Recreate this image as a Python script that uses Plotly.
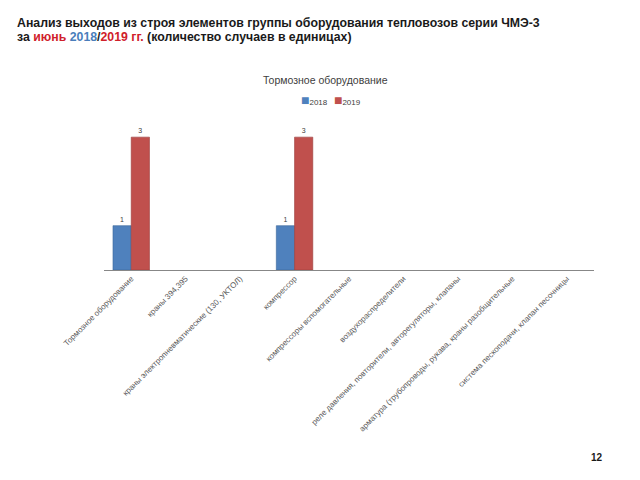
import plotly.graph_objects as go

categories = [
    "Тормозное оборудование",
    "краны 394,395",
    "краны электропневматические (130, УКТОЛ)",
    "компрессор",
    "компрессоры вспомогательные",
    "воздухораспределители",
    "реле давления, повторители, авторегуляторы, клапаны",
    "арматура (трубопроводы, рукава, краны разобщительные",
    "система пескоподачи, клапан песочницы",
]
values_2018 = [1, None, None, 1, None, None, None, None, None]
values_2019 = [3, None, None, 3, None, None, None, None, None]
series_names = ["2018", "2019"]
colors = ["#4F81BD", "#C0504D"]

def labels(vals):
    return [str(v) if v is not None else "" for v in vals]

fig = go.Figure()
for name, vals, col, edge in zip(series_names, [values_2018, values_2019], colors, ["#3A6699", "#9B3C3A"]):
    fig.add_trace(go.Bar(
        x=categories, y=vals, name=name,
        marker=dict(color=col, line=dict(color=edge, width=0.6)),
        text=labels(vals), textposition="outside", cliponaxis=False,
        textfont=dict(size=7, color="#404040", family="Liberation Sans"),
    ))

W, H = 640, 480
legend_text = "   ".join(
    f"<span style='color:{c};font-size:14px'>■</span>{n}" for n, c in zip(series_names, colors)
)
fig.update_layout(
    width=W, height=H,
    margin=dict(l=0, r=0, t=0, b=0, autoexpand=False),
    paper_bgcolor="white", plot_bgcolor="white",
    barmode="group", bargap=0.33, bargroupgap=0,
    showlegend=False,
    xaxis=dict(domain=[104 / W, 594 / W], tickangle=-45, showline=True, linecolor="#878787",
               linewidth=1, ticks="", showgrid=False, automargin=False,
               tickfont=dict(size=8, color="#595959", family="Liberation Sans")),
    yaxis=dict(domain=[(480 - 270) / 480, (480 - 115) / 480], range=[0, 3.5], visible=False,
               automargin=False),
    annotations=[
        dict(xref="paper", yref="paper", x=15 / W, y=1 - 23 / H, xanchor="left", yanchor="middle",
             showarrow=False, align="left",
             text="<b>Анализ выходов из строя элементов группы оборудования тепловозов серии ЧМЭ-3</b>",
             font=dict(size=12.3, color="#1a1a1a", family="Liberation Sans")),
        dict(xref="paper", yref="paper", x=15 / W, y=1 - 37 / H, xanchor="left", yanchor="middle",
             showarrow=False, align="left",
             text="<b>за <span style='color:#D0202A'>июнь</span> <span style='color:#4A7EBB'>2018</span>/"
                  "<span style='color:#D0202A'>2019 гг.</span> (количество случаев в единицах)</b>",
             font=dict(size=12.3, color="#1a1a1a", family="Liberation Sans")),
        dict(xref="paper", yref="paper", x=325 / W, y=1 - 80 / H, xanchor="center", yanchor="middle",
             showarrow=False, text="Тормозное оборудование",
             font=dict(size=10.5, color="#404040", family="Liberation Sans")),
        dict(xref="paper", yref="paper", x=331 / W, y=1 - 100 / H, xanchor="center", yanchor="middle",
             showarrow=False, text=legend_text,
             font=dict(size=8, color="#404040", family="Liberation Sans")),
        dict(xref="paper", yref="paper", x=597 / W, y=1 - 457 / H, xanchor="center", yanchor="middle",
             showarrow=False, text="<b>12</b>",
             font=dict(size=10, color="#1a1a1a", family="Liberation Sans")),
    ],
)

fig.write_html("out.html")
